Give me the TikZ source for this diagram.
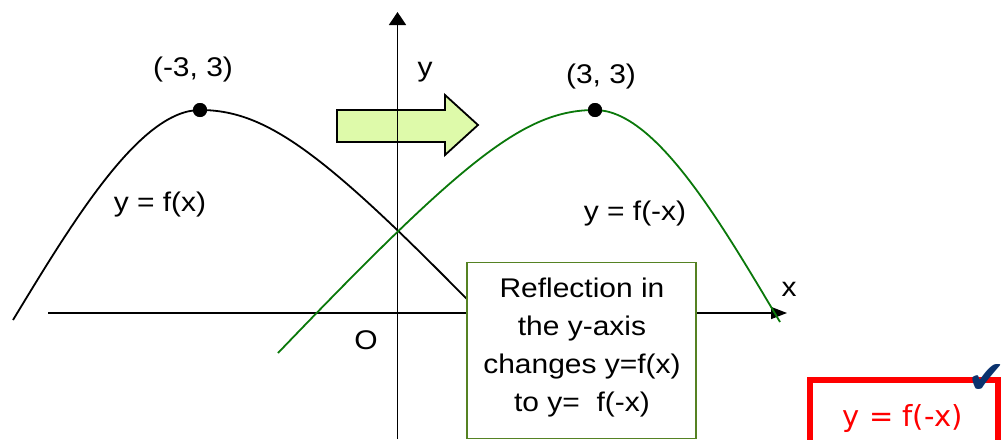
\documentclass[tikz,border=0pt]{standalone}
\usepackage{fontspec}
\setmainfont{Liberation Sans}[FakeStretch=1.11]
\newfontfamily\vfont{DejaVu Sans}
\usetikzlibrary{arrows.meta}
\definecolor{curvegreen}{RGB}{10,120,10}
\definecolor{arrowfill}{RGB}{222,250,170}
\definecolor{boxgreen}{RGB}{85,130,35}
\definecolor{checkblue}{RGB}{10,50,110}
\begin{document}
\begin{tikzpicture}[x=1pt,y=-1pt,
 lab/.style={font=\fontsize{27}{38}\selectfont, inner sep=0pt},
 axisline/.style={line width=1.5pt},
 curveline/.style={line width=1.8pt},
 dotpt/.style={circle, fill=black, inner sep=0pt, minimum size=14pt},
 reflbox/.style={draw=boxgreen, line width=1.6pt, fill=white, minimum width=229pt, minimum height=176pt, inner sep=0pt},
 ansbox/.style={draw=red, line width=6.5pt, minimum width=188pt, minimum height=100pt, inner sep=0pt},
 blockarrow/.style={draw=black, line width=1.8pt, fill=arrowfill, line join=miter}]
\useasboundingbox (0,0) rectangle (1008,439);
% block arrow
\draw[blockarrow] (337,110) -- (445,110) -- (445,95) -- (478,125) -- (445,155) -- (445,142) -- (337,142) -- cycle;
% axes
\coordinate (xstart) at (48,313);
\coordinate (xend) at (787,313);
\coordinate (ybot) at (397.5,439);
\coordinate (ytop) at (397.5,12);
\draw[axisline,-{Triangle[length=16pt,width=12pt]}] (xstart) -- (xend);
\draw[axisline,-{Triangle[length=13pt,width=17pt]}] (ybot) -- (ytop);
% dots (curve peaks)
\node[dotpt] (pl) at (200,110) {};
\node[dotpt] (pr) at (595,110) {};
% curves
\coordinate (bstart) at (13,320);
\coordinate (bend) at (500,333);
\coordinate (gstart) at (278,353);
\coordinate (gend) at (780,322);
\draw[curveline, black] (bstart) .. controls (73,221) and (140,110) .. (pl.center)
  .. controls (270,110) and (330,158) .. (bend);
\draw[curveline, curvegreen] (gstart) .. controls (465,158) and (525,110) .. (pr.center)
  .. controls (655,110) and (720,221) .. (gend);
\node[dotpt] at (pl.center) {};
\node[dotpt] at (pr.center) {};
% box
\node[reflbox] (refl) at (581.5,350.5) {};
\node[lab, align=center] (refltext) at (582,348) {Reflection in\\the y-axis\\changes y=f(x)\\to y=\ \ f(-x)};
% labels
\node[lab] (lpl) at (193,70) {(-3, 3)};
\node[lab] (lpr) at (601,77) {(3, 3)};
\node[lab] (lf) at (160,205) {y = f(x)};
\node[lab] (lg) at (635,214) {y = f(-x)};
\node[lab] (ly) at (425,72) {y};
\node[lab] (lx) at (789,289) {x};
\node[lab] (lo) at (366,340) {O};
% answer box
\node[ansbox] (ans) at (904,430) {};
\node[font=\vfont\fontsize{29}{34}\selectfont, text=red, inner sep=0pt] (anstext) at (903,418) {y = f(-x)};
\node[font=\vfont\fontsize{46}{46}\selectfont, text=checkblue, inner sep=0pt] (check) at (987,379) {✔};
\end{tikzpicture}
\end{document}
